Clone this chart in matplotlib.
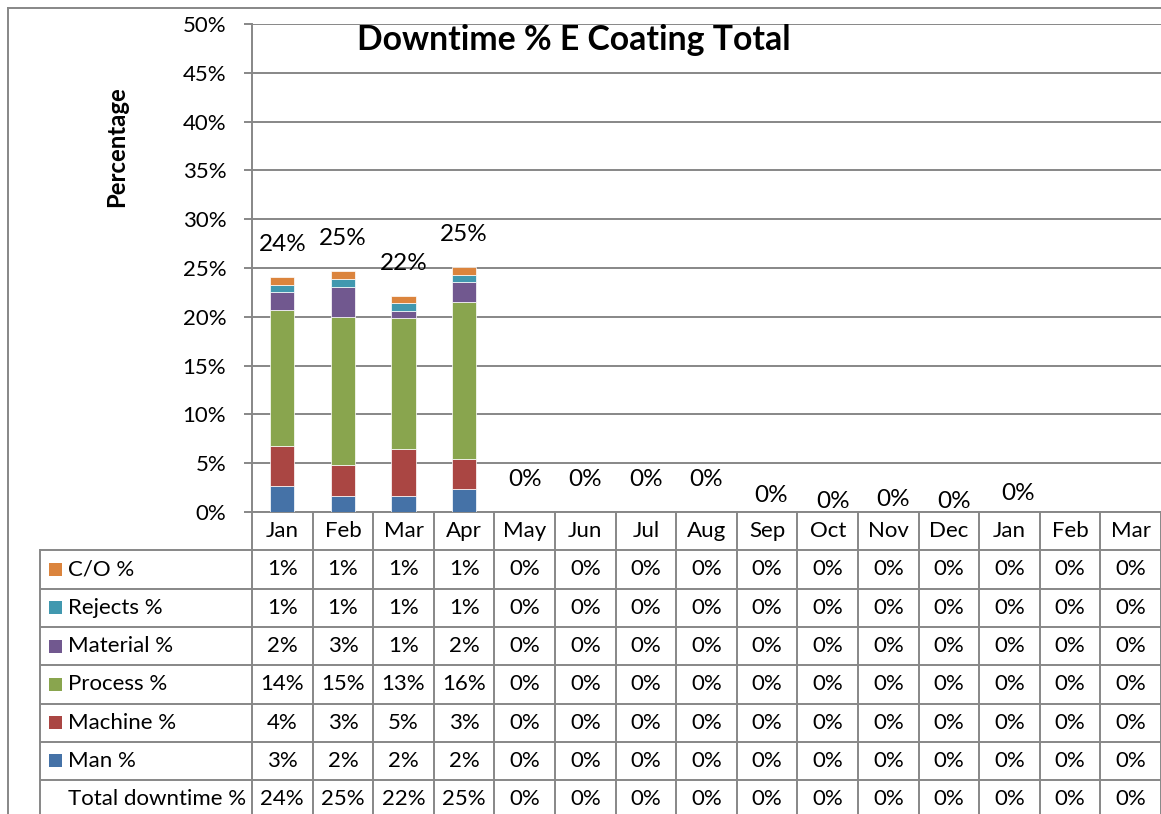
import matplotlib
matplotlib.use("Agg")
import matplotlib.pyplot as plt
from matplotlib.patches import Rectangle
from matplotlib.lines import Line2D
from matplotlib.ticker import FuncFormatter, MultipleLocator

plt.rcParams['font.family'] = ['Lato', 'DejaVu Sans']

# ---- data -------------------------------------------------------------
months = ["Jan", "Feb", "Mar", "Apr", "May", "Jun", "Jul", "Aug",
          "Sep", "Oct", "Nov", "Dec", "Jan", "Feb", "Mar"]

man_pct      = [0.027, 0.016, 0.016, 0.0232] + [0.0] * 11
machine_pct  = [0.041, 0.0325, 0.0485, 0.0314] + [0.0] * 11
process_pct  = [0.139, 0.1513, 0.134, 0.1602] + [0.0] * 11
material_pct = [0.0187, 0.0305, 0.0078, 0.0205] + [0.0] * 11
rejects_pct  = [0.0069, 0.0085, 0.0076, 0.0072] + [0.0] * 11
co_pct       = [0.0079, 0.008, 0.0072, 0.0085] + [0.0] * 11

series_names = ["Man %", "Machine %", "Process %", "Material %", "Rejects %", "C/O %"]
series_vals = [man_pct, machine_pct, process_pct, material_pct, rejects_pct, co_pct]
series_colors = ["#4572A7", "#AA4643", "#89A54E", "#71588F", "#4198AF", "#DB843D"]

total_pct = [sum(v) for v in zip(*series_vals)]

# total label placement (pixel offsets above the stack top); None = no label
total_label_dx = [0, 0, 0, 0, 0, 0, 0, 0, 4, 5, 5, 5, 9, None, None]
total_label_dy = [33, 33, 33, 33, 33, 33, 33, 33, 16, 10, 12, 11, 18, None, None]

# ---- figure -------------------------------------------------------------
W, H = 1161, 814
fig = plt.figure(figsize=(W / 100, H / 100), dpi=100)
GRID = "#878787"
TXT = "#000000"
FS = 16
FS_LABEL = 17.5

ax_left, ax_right, ax_bot, ax_top = 252, 1161, 512, 24
ax = fig.add_axes([ax_left / W, 1 - ax_bot / H, (ax_right - ax_left) / W,
                   (ax_bot - ax_top) / H])
ax.set_xlim(-0.5, len(months) - 0.5)
ax.set_ylim(0, 0.5)

x = list(range(len(months)))
bottom = [0.0] * len(months)
for name, vals, col in zip(series_names, series_vals, series_colors):
    ax.bar(x, vals, width=0.4, bottom=bottom, color=col,
           edgecolor="white", linewidth=0.5, zorder=3)
    bottom = [b + v for b, v in zip(bottom, vals)]

for i, t in enumerate(total_pct):
    if total_label_dy[i] is None:
        continue
    ax.annotate(f"{round(t * 100):.0f}%", (i, t),
                xytext=(total_label_dx[i], total_label_dy[i]),
                textcoords="offset pixels", ha="center", va="center",
                fontsize=FS_LABEL, color=TXT, zorder=4)

ax.yaxis.set_major_locator(MultipleLocator(0.05))
ax.yaxis.set_major_formatter(FuncFormatter(lambda v, p: f"{v * 100:.0f}%"))
ax.grid(axis="y", color=GRID, linewidth=1.4, zorder=0)
ax.set_axisbelow(True)
ax.set_xticks([])
for s in ["top", "right"]:
    ax.spines[s].set_visible(False)
for s in ["left", "bottom"]:
    ax.spines[s].set_color(GRID)
    ax.spines[s].set_linewidth(1.4)
ax.tick_params(axis="y", direction="out", length=5.5, width=1.4,
               color=GRID, pad=13, labelsize=FS, labelcolor=TXT)

# title and axis label
fig.text(574 / W, 1 - 40 / H, "Downtime % E Coating Total", ha="center",
         va="center", fontsize=24.3, fontweight="bold", color=TXT)
fig.text(117 / W, 1 - 147 / H, "Percentage", rotation=90, ha="center",
         va="center", fontsize=17.2, fontweight="bold", color=TXT)

# chart frame
fig.add_artist(Line2D([8 / W, 8 / W], [1 - 8 / H, 0], color=GRID, linewidth=1.4))
fig.add_artist(Line2D([8 / W, 1], [1 - 8 / H, 1 - 8 / H], color=GRID, linewidth=1.4))

# ---- data table -----------------------------------------------------------
col_w = (ax_right - ax_left) / len(months)
row_h = 38.3
tab_left = 40
x0 = -0.5 - (ax_left - tab_left) / col_w
tab = fig.add_axes([tab_left / W, 0, (W - tab_left) / W, (H - ax_bot) / H])
tab.set_xlim(x0, len(months) - 0.5)
n_rows_vis = (H - ax_bot) / row_h
tab.set_ylim(n_rows_vis, 0)
tab.axis("off")

n_body = len(series_names) + 1
# horizontal lines
for r in range(1, n_body + 1):
    tab.plot([x0, len(months) - 0.5], [r, r], color=GRID, linewidth=1.4,
             solid_capstyle="butt", clip_on=False)
# vertical lines
for c in range(len(months) + 1):
    tab.plot([c - 0.5, c - 0.5], [0, n_body + 1], color=GRID, linewidth=1.4,
             clip_on=False)
tab.plot([x0, x0], [1, n_body + 1], color=GRID, linewidth=1.4, clip_on=False)

# header row
for i, m in enumerate(months):
    tab.text(i, 0.5, m, ha="center", va="center", fontsize=FS, color=TXT)

# series rows (top row is the last series in the stack)
key_w = 13 / col_w
key_h = 13 / row_h
lab_x = x0 + (68 - tab_left) / col_w
key_x = x0 + (49 - tab_left) / col_w
rows = list(zip(series_names, series_vals, series_colors))[::-1]
for r, (name, vals, col) in enumerate(rows, start=1):
    yc = r + 0.5
    tab.add_patch(Rectangle((key_x, yc - key_h / 2), key_w, key_h,
                            facecolor=col, edgecolor="none"))
    tab.text(lab_x, yc, name, ha="left", va="center", fontsize=FS, color=TXT)
    for i, v in enumerate(vals):
        tab.text(i, yc, f"{round(v * 100):.0f}%", ha="center", va="center",
                 fontsize=FS, color=TXT)

yc = n_body + 0.5
tab.text(lab_x, yc, "Total downtime %", ha="left", va="center", fontsize=FS,
         color=TXT)
for i, t in enumerate(total_pct):
    tab.text(i, yc, f"{round(t * 100):.0f}%", ha="center", va="center",
             fontsize=FS, color=TXT)

fig.savefig("out.png", dpi=100)
